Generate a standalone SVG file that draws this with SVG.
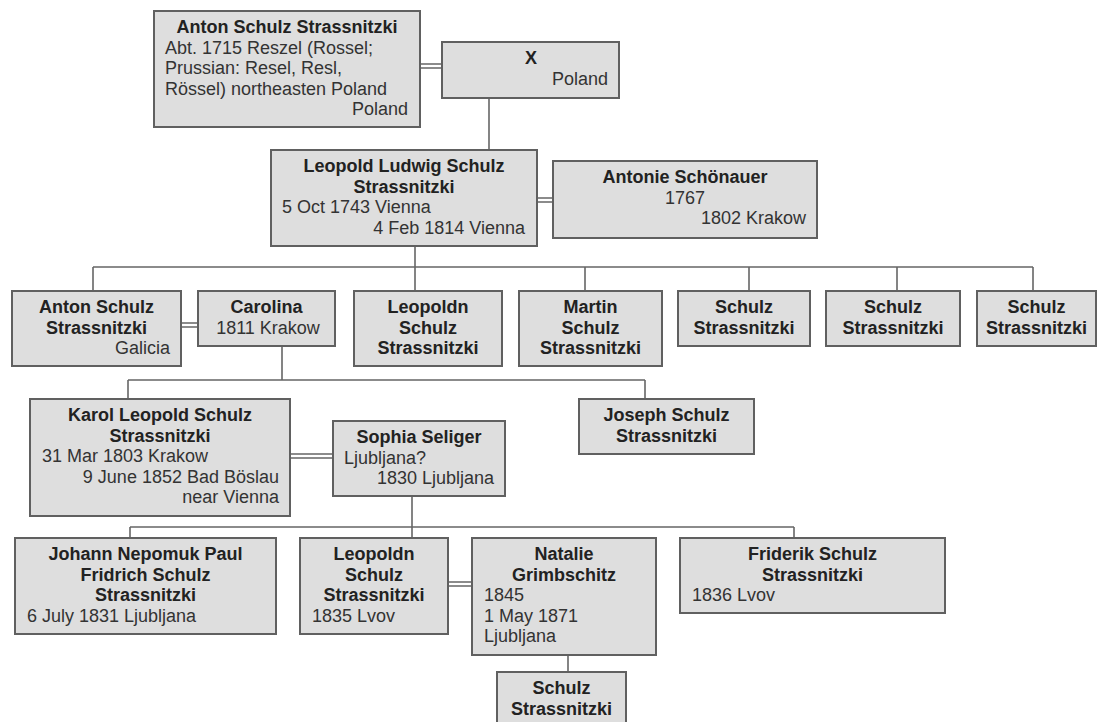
<svg xmlns="http://www.w3.org/2000/svg" width="1100" height="722" viewBox="0 0 1100 722">
<style>
.box{fill:#dedede;stroke:#606060;stroke-width:2}
.ln{fill:none;stroke:#666;stroke-width:1.6}
.dl{fill:none;stroke:#666;stroke-width:1.3}
text{font-family:"Liberation Sans",Arial,sans-serif;font-size:18px}
.b{font-weight:bold;fill:#222;text-anchor:middle}
.r{fill:#333}
.c{text-anchor:middle}
.e{text-anchor:end}
</style>
<rect width="1100" height="722" fill="#ffffff"/>
<g id="connectors">
<path class="ln" d="M489 98V150"/>
<path class="dl" d="M420 64H442M420 68H442"/>
<path class="dl" d="M537 198H553M537 202H553"/>
<path class="ln" d="M415 246V291M93 267H1033M93 267V291M585 267V291M749 267V291M897 267V291M1033 267V291"/>
<path class="dl" d="M181 323H198M181 327H198"/>
<path class="ln" d="M282 346V380M128 380H645M128 380V399M645 380V399"/>
<path class="dl" d="M290 454H333M290 458H333"/>
<path class="ln" d="M412 496V538M130 527H794M130 527V538M794 527V538"/>
<path class="dl" d="M448 582H472M448 586H472"/>
<path class="ln" d="M568 655V672"/>
</g>
<g id="anton-schulz-strassnitzki-1">
<rect class="box" x="154" y="11" width="266" height="116"/>
<text class="b" x="287" y="33">Anton Schulz Strassnitzki</text>
<text class="r" x="165" y="53.5">Abt. 1715 Reszel (Rossel;</text>
<text class="r" x="165" y="74">Prussian: Resel, Resl,</text>
<text class="r" x="165" y="94.5">Rössel) northeasten Poland</text>
<text class="r e" x="408" y="115">Poland</text>
</g>
<g id="x-spouse">
<rect class="box" x="442" y="42" width="177" height="56"/>
<text class="b" x="531" y="64">X</text>
<text class="r e" x="608" y="84.5">Poland</text>
</g>
<g id="leopold-ludwig">
<rect class="box" x="271" y="150" width="266" height="96"/>
<text class="b" x="404" y="172">Leopold Ludwig Schulz</text>
<text class="b" x="404" y="192.5">Strassnitzki</text>
<text class="r" x="282" y="213">5 Oct 1743 Vienna</text>
<text class="r e" x="525" y="233.5">4 Feb 1814 Vienna</text>
</g>
<g id="antonie-schonauer">
<rect class="box" x="553" y="161" width="264" height="77"/>
<text class="b" x="685" y="183">Antonie Schönauer</text>
<text class="r c" x="685" y="203.5">1767</text>
<text class="r e" x="806" y="224">1802 Krakow</text>
</g>
<g id="anton-schulz-2">
<rect class="box" x="12" y="291" width="169" height="75"/>
<text class="b" x="96.5" y="313">Anton Schulz</text>
<text class="b" x="96.5" y="333.5">Strassnitzki</text>
<text class="r e" x="170" y="354">Galicia</text>
</g>
<g id="carolina">
<rect class="box" x="198" y="291" width="137" height="55"/>
<text class="b" x="266.5" y="313">Carolina</text>
<text class="r c" x="268" y="333.5">1811 Krakow</text>
</g>
<g id="leopoldn-1">
<rect class="box" x="354" y="291" width="148" height="75"/>
<text class="b" x="428" y="313">Leopoldn</text>
<text class="b" x="428" y="333.5">Schulz</text>
<text class="b" x="428" y="354">Strassnitzki</text>
</g>
<g id="martin">
<rect class="box" x="519" y="291" width="143" height="75"/>
<text class="b" x="590.5" y="313">Martin</text>
<text class="b" x="590.5" y="333.5">Schulz</text>
<text class="b" x="590.5" y="354">Strassnitzki</text>
</g>
<g id="schulz-a">
<rect class="box" x="678" y="291" width="132" height="55"/>
<text class="b" x="744" y="313">Schulz</text>
<text class="b" x="744" y="333.5">Strassnitzki</text>
</g>
<g id="schulz-b">
<rect class="box" x="826" y="291" width="134" height="55"/>
<text class="b" x="893" y="313">Schulz</text>
<text class="b" x="893" y="333.5">Strassnitzki</text>
</g>
<g id="schulz-c">
<rect class="box" x="977" y="291" width="119" height="55"/>
<text class="b" x="1036.5" y="313">Schulz</text>
<text class="b" x="1036.5" y="333.5">Strassnitzki</text>
</g>
<g id="karol-leopold">
<rect class="box" x="30" y="399" width="260" height="117"/>
<text class="b" x="160" y="421">Karol Leopold Schulz</text>
<text class="b" x="160" y="441.5">Strassnitzki</text>
<text class="r" x="42" y="462">31 Mar 1803 Krakow</text>
<text class="r e" x="279" y="482.5">9 June 1852 Bad Böslau</text>
<text class="r e" x="279" y="503">near Vienna</text>
</g>
<g id="sophia-seliger">
<rect class="box" x="333" y="421" width="172" height="75"/>
<text class="b" x="419" y="443">Sophia Seliger</text>
<text class="r" x="344" y="463.5">Ljubljana?</text>
<text class="r e" x="494" y="484">1830 Ljubljana</text>
</g>
<g id="joseph">
<rect class="box" x="579" y="399" width="175" height="55"/>
<text class="b" x="666.5" y="421">Joseph Schulz</text>
<text class="b" x="666.5" y="441.5">Strassnitzki</text>
</g>
<g id="johann">
<rect class="box" x="15" y="538" width="261" height="96"/>
<text class="b" x="145.5" y="560">Johann Nepomuk Paul</text>
<text class="b" x="145.5" y="580.5">Fridrich Schulz</text>
<text class="b" x="145.5" y="601">Strassnitzki</text>
<text class="r" x="27" y="621.5">6 July 1831 Ljubljana</text>
</g>
<g id="leopoldn-2">
<rect class="box" x="300" y="538" width="148" height="96"/>
<text class="b" x="374" y="560">Leopoldn</text>
<text class="b" x="374" y="580.5">Schulz</text>
<text class="b" x="374" y="601">Strassnitzki</text>
<text class="r" x="312" y="621.5">1835 Lvov</text>
</g>
<g id="natalie">
<rect class="box" x="472" y="538" width="184" height="117"/>
<text class="b" x="564" y="560">Natalie</text>
<text class="b" x="564" y="580.5">Grimbschitz</text>
<text class="r" x="484" y="601">1845</text>
<text class="r" x="484" y="621.5">1 May 1871</text>
<text class="r" x="484" y="642">Ljubljana</text>
</g>
<g id="friderik">
<rect class="box" x="680" y="538" width="265" height="75"/>
<text class="b" x="812.5" y="560">Friderik Schulz</text>
<text class="b" x="812.5" y="580.5">Strassnitzki</text>
<text class="r" x="692" y="601">1836 Lvov</text>
</g>
<g id="schulz-d">
<rect class="box" x="497" y="672" width="129" height="58"/>
<text class="b" x="561.5" y="694">Schulz</text>
<text class="b" x="561.5" y="714.5">Strassnitzki</text>
</g>
</svg>
